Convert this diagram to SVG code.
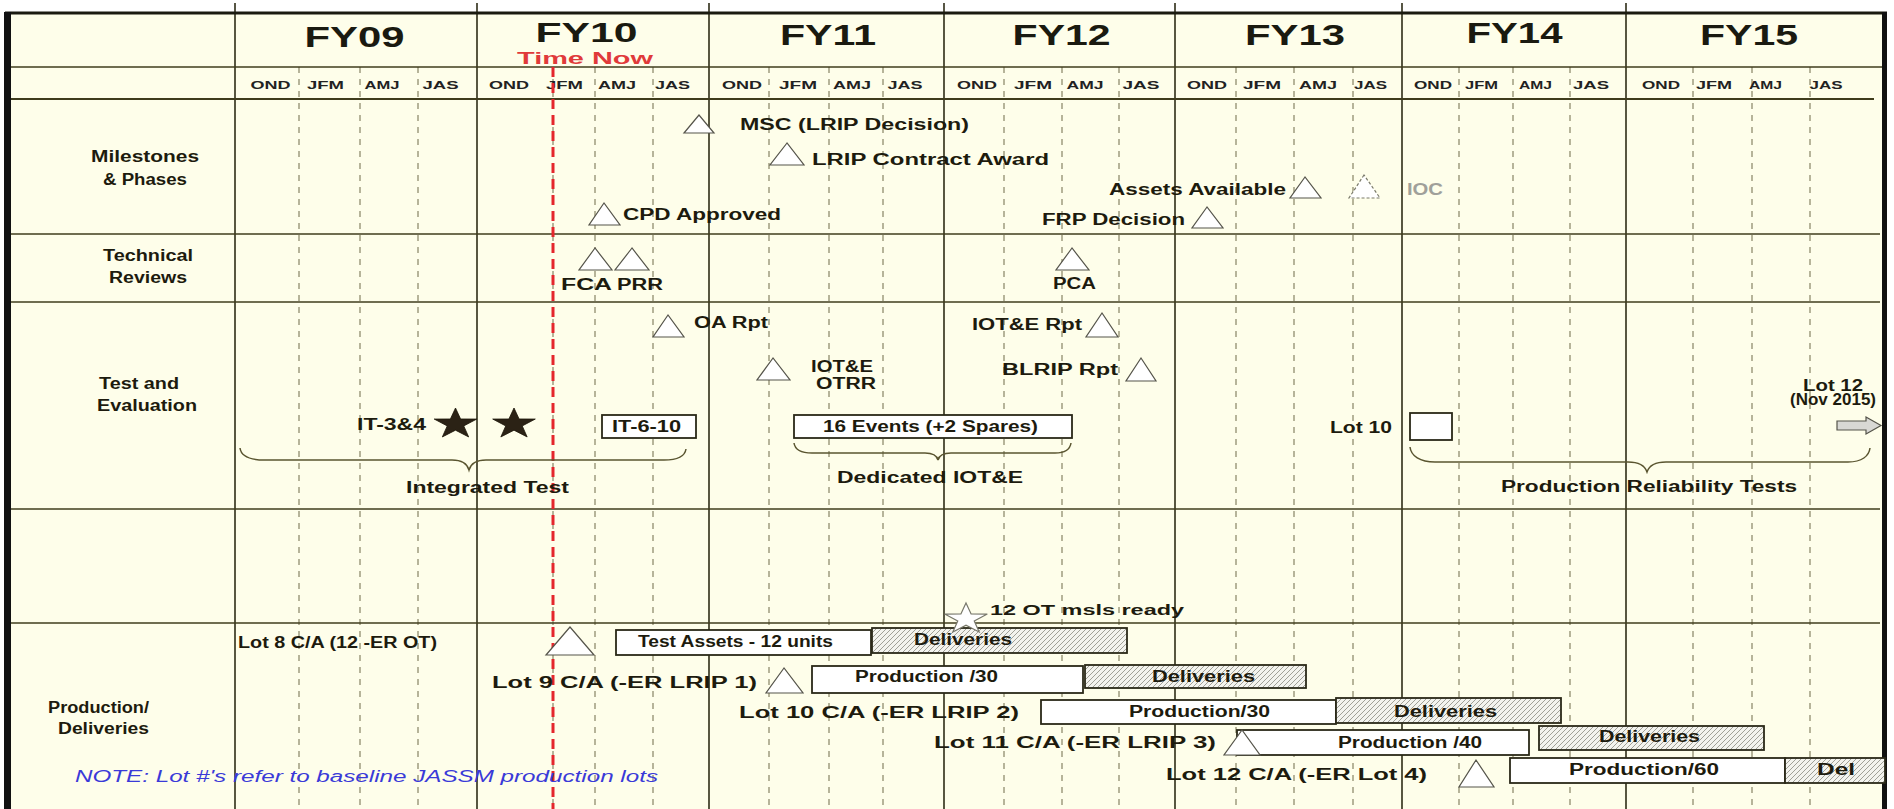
<svg xmlns="http://www.w3.org/2000/svg" width="1894" height="809" viewBox="0 0 1894 809">
<defs>
<style>
.t{font-family:"Liberation Sans",Arial,sans-serif;font-weight:bold;fill:#1d1b0e}
.fy{font-size:29px;fill:#1a1a10}
.q{font-size:10px;fill:#222}
.lbl{font-size:16px}
.m{font-size:16px}
.s{font-size:14px}
.note{font-family:"Liberation Sans",Arial,sans-serif;font-style:italic;font-size:16px;fill:#3a3ad8}
.tri{fill:#fff;stroke:#55544a;stroke-width:1.2}
.trid{fill:#fff;stroke:#7a7a6a;stroke-width:1.2;stroke-dasharray:3 2}
.box{fill:#fff;stroke:#2a2818;stroke-width:1.8}
.hbox{fill:url(#hatch);stroke:#2a2818;stroke-width:1.8}
.dash{stroke:#6e6b48;stroke-width:1;stroke-dasharray:6 6}
.solid{stroke:#2e2c16;stroke-width:1.6}
.hl{stroke:#3f3c1c;stroke-width:1.6}
.brace{fill:none;stroke:#5a5530;stroke-width:1.5}
</style>
<pattern id="hatch" patternUnits="userSpaceOnUse" width="5" height="5">
<rect width="5" height="5" fill="#f3f3ee"/>
<path d="M-1,6 L6,-1" stroke="#8a8a80" stroke-width="0.8"/>
</pattern>
<polygon id="star" points="0,-16 5.1,-5.02 21.3,-4.94 8.26,1.92 13.16,12.94 0,6.2 -13.16,12.94 -8.26,1.92 -21.3,-4.94 -5.1,-5.02"/>
</defs>

<rect x="0" y="0" width="1894" height="809" fill="#ffffff"/>
<rect x="5" y="13" width="1880" height="796" fill="#fefeea"/>

<g id="grid">
<g class="dash">
<line x1="299" y1="67" x2="299" y2="809"/><line x1="360" y1="67" x2="360" y2="809"/><line x1="418" y1="67" x2="418" y2="809"/>
<line x1="553" y1="67" x2="553" y2="809"/><line x1="595" y1="67" x2="595" y2="809"/><line x1="653" y1="67" x2="653" y2="809"/>
<line x1="769" y1="67" x2="769" y2="809"/><line x1="829" y1="67" x2="829" y2="809"/><line x1="883" y1="67" x2="883" y2="809"/>
<line x1="1004" y1="67" x2="1004" y2="809"/><line x1="1062" y1="67" x2="1062" y2="809"/><line x1="1119" y1="67" x2="1119" y2="809"/>
<line x1="1236" y1="67" x2="1236" y2="809"/><line x1="1294" y1="67" x2="1294" y2="809"/><line x1="1353" y1="67" x2="1353" y2="809"/>
<line x1="1459" y1="67" x2="1459" y2="809"/><line x1="1513" y1="67" x2="1513" y2="809"/><line x1="1570" y1="67" x2="1570" y2="809"/>
<line x1="1693" y1="67" x2="1693" y2="809"/><line x1="1752" y1="67" x2="1752" y2="809"/><line x1="1810" y1="67" x2="1810" y2="809"/>
</g>
<g class="solid">
<line x1="235" y1="3" x2="235" y2="809"/><line x1="477" y1="3" x2="477" y2="809"/><line x1="709" y1="3" x2="709" y2="809"/>
<line x1="944" y1="3" x2="944" y2="809"/><line x1="1175" y1="3" x2="1175" y2="809"/><line x1="1402" y1="3" x2="1402" y2="809"/>
<line x1="1626" y1="3" x2="1626" y2="809"/>
</g>
<g class="hl">
<line x1="5" y1="67" x2="1884" y2="67"/>
<line x1="5" y1="99" x2="1874" y2="99" stroke-width="2.2"/>
<line x1="5" y1="234" x2="1880" y2="234"/>
<line x1="5" y1="302" x2="1880" y2="302"/>
<line x1="5" y1="509" x2="1880" y2="509"/>
<line x1="5" y1="623" x2="1880" y2="623"/>
</g>
<line x1="5" y1="13" x2="1887" y2="13" stroke="#1a1a10" stroke-width="3"/>
<rect x="4" y="12" width="7" height="797" fill="#111"/>
<rect x="1882" y="12" width="5" height="797" fill="#111"/>
</g>

<g id="header">
<text class="t fy" x="354.5" y="47" text-anchor="middle" textLength="100" lengthAdjust="spacingAndGlyphs">FY09</text>
<text class="t fy" x="586.5" y="42" text-anchor="middle" textLength="102" lengthAdjust="spacingAndGlyphs" style="font-size:28px">FY10</text>
<text class="t fy" x="828" y="45" text-anchor="middle" textLength="96" lengthAdjust="spacingAndGlyphs">FY11</text>
<text class="t fy" x="1061.6" y="45" text-anchor="middle" textLength="98" lengthAdjust="spacingAndGlyphs">FY12</text>
<text class="t fy" x="1295" y="45" text-anchor="middle" textLength="100" lengthAdjust="spacingAndGlyphs">FY13</text>
<text class="t fy" x="1514.5" y="43" text-anchor="middle" textLength="96" lengthAdjust="spacingAndGlyphs">FY14</text>
<text class="t fy" x="1749" y="45" text-anchor="middle" textLength="98" lengthAdjust="spacingAndGlyphs">FY15</text>
<g class="t q" text-anchor="middle">
<text x="270.5" y="89" textLength="40" lengthAdjust="spacingAndGlyphs">OND</text><text x="325.5" y="89" textLength="37" lengthAdjust="spacingAndGlyphs">JFM</text><text x="382" y="89" textLength="35" lengthAdjust="spacingAndGlyphs">AMJ</text><text x="440.5" y="89" textLength="36" lengthAdjust="spacingAndGlyphs">JAS</text>
<text x="509" y="89" textLength="40" lengthAdjust="spacingAndGlyphs">OND</text><text x="564.5" y="89" textLength="37" lengthAdjust="spacingAndGlyphs">JFM</text><text x="617" y="89" textLength="38" lengthAdjust="spacingAndGlyphs">AMJ</text><text x="672.5" y="89" textLength="35" lengthAdjust="spacingAndGlyphs">JAS</text>
<text x="742" y="89" textLength="40" lengthAdjust="spacingAndGlyphs">OND</text><text x="798" y="89" textLength="38" lengthAdjust="spacingAndGlyphs">JFM</text><text x="852" y="89" textLength="38" lengthAdjust="spacingAndGlyphs">AMJ</text><text x="905" y="89" textLength="35" lengthAdjust="spacingAndGlyphs">JAS</text>
<text x="977" y="89" textLength="40" lengthAdjust="spacingAndGlyphs">OND</text><text x="1033" y="89" textLength="38" lengthAdjust="spacingAndGlyphs">JFM</text><text x="1085" y="89" textLength="37" lengthAdjust="spacingAndGlyphs">AMJ</text><text x="1141" y="89" textLength="37" lengthAdjust="spacingAndGlyphs">JAS</text>
<text x="1207" y="89" textLength="40" lengthAdjust="spacingAndGlyphs">OND</text><text x="1262" y="89" textLength="38" lengthAdjust="spacingAndGlyphs">JFM</text><text x="1318" y="89" textLength="38" lengthAdjust="spacingAndGlyphs">AMJ</text><text x="1370.5" y="89" textLength="33" lengthAdjust="spacingAndGlyphs">JAS</text>
<text x="1433" y="89" textLength="38" lengthAdjust="spacingAndGlyphs">OND</text><text x="1481.5" y="89" textLength="33" lengthAdjust="spacingAndGlyphs">JFM</text><text x="1535.5" y="89" textLength="33" lengthAdjust="spacingAndGlyphs">AMJ</text><text x="1591" y="89" textLength="36" lengthAdjust="spacingAndGlyphs">JAS</text>
<text x="1661" y="89" textLength="38" lengthAdjust="spacingAndGlyphs">OND</text><text x="1714" y="89" textLength="36" lengthAdjust="spacingAndGlyphs">JFM</text><text x="1765.5" y="89" textLength="33" lengthAdjust="spacingAndGlyphs">AMJ</text><text x="1826" y="89" textLength="33" lengthAdjust="spacingAndGlyphs">JAS</text>
</g>
</g>

<g id="row-labels" class="t lbl">
<text x="91" y="162" textLength="108" lengthAdjust="spacingAndGlyphs">Milestones</text>
<text x="103" y="185" textLength="84" lengthAdjust="spacingAndGlyphs">&amp; Phases</text>
<text x="103" y="261" textLength="90" lengthAdjust="spacingAndGlyphs">Technical</text>
<text x="109" y="283" textLength="78" lengthAdjust="spacingAndGlyphs">Reviews</text>
<text x="99" y="389" textLength="80" lengthAdjust="spacingAndGlyphs">Test and</text>
<text x="97" y="411" textLength="100" lengthAdjust="spacingAndGlyphs">Evaluation</text>
<text x="48" y="713" textLength="101" lengthAdjust="spacingAndGlyphs">Production/</text>
<text x="58" y="734" textLength="91" lengthAdjust="spacingAndGlyphs">Deliveries</text>
</g>

<g id="time-now">
<line x1="553" y1="67" x2="553" y2="809" stroke="#e4262c" stroke-width="3" stroke-dasharray="10 6"/>
<text x="517" y="64" font-family="Liberation Sans, Arial, sans-serif" font-weight="bold" font-size="17" fill="#e03a3a" textLength="136" lengthAdjust="spacingAndGlyphs">Time Now</text>
</g>

<g id="connectors">
<path class="brace" d="M240,448 C241,456 250,460 265,460 L452,460 C462,460 467,463 469,470 C471,463 476,460 486,460 L664,460 C678,460 685,456 686,449"/>
<path class="brace" d="M794,443 C795,450 802,453 812,453 L925,453 C933,453 937,456 938,460 C939,456 943,453 951,453 L1055,453 C1065,453 1070,450 1071,443"/>
<path class="brace" d="M1410,447 C1411,456 1420,462 1435,462 L1628,462 C1640,462 1645,466 1647,472 C1649,466 1654,462 1666,462 L1848,462 C1862,462 1869,456 1870,448"/>
</g>

<g id="msc"><polygon class="tri" points="699,115 684,133 714,133"/><text class="t m" x="740" y="130" textLength="229" lengthAdjust="spacingAndGlyphs">MSC (LRIP Decision)</text></g>
<g id="lrip-award"><polygon class="tri" points="787,143 770,165 804,165"/><text class="t m" x="812" y="165" textLength="237" lengthAdjust="spacingAndGlyphs">LRIP Contract Award</text></g>
<g id="assets-available"><text class="t m" x="1109" y="195" textLength="177" lengthAdjust="spacingAndGlyphs">Assets Available</text><polygon class="tri" points="1305,177 1290,198 1321,198"/></g>
<g id="ioc"><polygon class="trid" points="1364,175 1349,198 1380,198"/><text class="t m" x="1407" y="195" textLength="36" lengthAdjust="spacingAndGlyphs" style="fill:#a0a09a">IOC</text></g>
<g id="cpd"><polygon class="tri" points="604,203 589,225 620,225"/><text class="t m" x="623" y="220" textLength="158" lengthAdjust="spacingAndGlyphs">CPD Approved</text></g>
<g id="frp"><text class="t m" x="1042" y="225" textLength="143" lengthAdjust="spacingAndGlyphs">FRP Decision</text><polygon class="tri" points="1207,207 1192,228 1223,228"/></g>

<g id="fca"><polygon class="tri" points="595,248 579,270 612,270"/><text class="t m" x="561" y="290" textLength="51" lengthAdjust="spacingAndGlyphs">FCA</text></g>
<g id="prr"><polygon class="tri" points="632,248 615,270 649,270"/><text class="t m" x="617" y="290" textLength="46" lengthAdjust="spacingAndGlyphs">PRR</text></g>
<g id="pca"><polygon class="tri" points="1072,248 1056,270 1089,270"/><text class="t m" x="1053" y="289" textLength="43" lengthAdjust="spacingAndGlyphs">PCA</text></g>

<g id="oa-rpt"><polygon class="tri" points="668,315 653,337 684,337"/><text class="t m" x="694" y="328" textLength="74" lengthAdjust="spacingAndGlyphs">OA Rpt</text></g>
<g id="iote-rpt"><text class="t m" x="972" y="330" textLength="110" lengthAdjust="spacingAndGlyphs">IOT&amp;E Rpt</text><polygon class="tri" points="1102,313 1086,337 1118,337"/></g>
<g id="iote-otrr"><polygon class="tri" points="773,358 757,380 790,380"/><text class="t m" x="811" y="372" textLength="62" lengthAdjust="spacingAndGlyphs">IOT&amp;E</text><text class="t m" x="816" y="389" textLength="60" lengthAdjust="spacingAndGlyphs">OTRR</text></g>
<g id="blrip-rpt"><text class="t m" x="1002" y="375" textLength="116" lengthAdjust="spacingAndGlyphs">BLRIP Rpt</text><polygon class="tri" points="1141,358 1126,381 1156,381"/></g>
<g id="lot12-test"><text class="t m" x="1803" y="391" textLength="60" lengthAdjust="spacingAndGlyphs">Lot 12</text><text class="t m" x="1790" y="405" textLength="86" lengthAdjust="spacingAndGlyphs">(Nov 2015)</text><polygon points="1837,421 1866,421 1866,417 1881,425.5 1866,434 1866,430 1837,430" fill="#d8d8d4" stroke="#55544a" stroke-width="1.2"/></g>
<g id="it-3-4"><text class="t m" x="357" y="430" textLength="69" lengthAdjust="spacingAndGlyphs">IT-3&amp;4</text><use href="#star" x="455.5" y="424" fill="#2b2215" stroke="#1a1408" stroke-width="0.8"/><use href="#star" x="514" y="424" fill="#2b2215" stroke="#1a1408" stroke-width="0.8"/></g>
<g id="it-6-10"><rect class="box" x="602" y="415" width="94" height="23"/><text class="t m" x="612" y="432" textLength="69" lengthAdjust="spacingAndGlyphs">IT-6-10</text></g>
<g id="events"><rect class="box" x="794" y="415" width="278" height="23"/><text class="t m" x="823" y="432" textLength="215" lengthAdjust="spacingAndGlyphs">16 Events (+2 Spares)</text></g>
<g id="lot10-test"><text class="t m" x="1330" y="433" textLength="62" lengthAdjust="spacingAndGlyphs">Lot 10</text><rect class="box" x="1410" y="413" width="42" height="27"/></g>
<g id="integrated-test"><text class="t m" x="406" y="493" textLength="163" lengthAdjust="spacingAndGlyphs">Integrated Test</text></g>
<g id="dedicated-iote"><text class="t m" x="837" y="483" textLength="186" lengthAdjust="spacingAndGlyphs">Dedicated IOT&amp;E</text></g>
<g id="prt"><text class="t m" x="1501" y="492" textLength="296" lengthAdjust="spacingAndGlyphs">Production Reliability Tests</text></g>

<g id="lot8">
<text class="t m" x="238" y="648" textLength="199" lengthAdjust="spacingAndGlyphs">Lot 8 C/A (12 -ER OT)</text>
<polygon class="tri" points="570,627 546,655 594,655"/>
<rect class="box" x="616" y="630" width="255" height="25"/>
<text class="t m" x="638" y="647" textLength="195" lengthAdjust="spacingAndGlyphs">Test Assets  - 12 units</text>
<rect class="hbox" x="872" y="628" width="255" height="25"/>
<text class="t m" x="914" y="645" textLength="98" lengthAdjust="spacingAndGlyphs">Deliveries</text>
</g>
<g id="ot-msls"><use href="#star" x="966" y="619" fill="#ffffff" stroke="#77776a" stroke-width="1.2"/><text class="t s" x="990" y="615" textLength="194" lengthAdjust="spacingAndGlyphs">12 OT msls ready</text></g>
<g id="lot9">
<text class="t m" x="492" y="688" textLength="265" lengthAdjust="spacingAndGlyphs">Lot  9 C/A (-ER LRIP 1)</text>
<polygon class="tri" points="784,668 766,693 803,693"/>
<rect class="box" x="812" y="666" width="271" height="27"/>
<text class="t m" x="855" y="682" textLength="143" lengthAdjust="spacingAndGlyphs">Production /30</text>
<rect class="hbox" x="1085" y="665" width="221" height="23"/>
<text class="t m" x="1152" y="682" textLength="103" lengthAdjust="spacingAndGlyphs">Deliveries</text>
</g>
<g id="lot10">
<text class="t m" x="739" y="718" textLength="280" lengthAdjust="spacingAndGlyphs">Lot  10 C/A (-ER LRIP 2)</text>
<rect class="box" x="1041" y="700" width="295" height="24"/>
<text class="t m" x="1129" y="717" textLength="141" lengthAdjust="spacingAndGlyphs">Production/30</text>
<rect class="hbox" x="1336" y="698" width="225" height="25"/>
<text class="t m" x="1394" y="717" textLength="103" lengthAdjust="spacingAndGlyphs">Deliveries</text>
</g>
<g id="lot11">
<text class="t m" x="934" y="748" textLength="282" lengthAdjust="spacingAndGlyphs">Lot  11 C/A (-ER LRIP 3)</text>
<rect class="box" x="1237" y="730" width="292" height="25"/>
<polygon class="tri" points="1242,730 1224,755 1260,755"/>
<text class="t m" x="1338" y="748" textLength="144" lengthAdjust="spacingAndGlyphs">Production /40</text>
<rect class="hbox" x="1539" y="726" width="225" height="24"/>
<text class="t m" x="1599" y="742" textLength="101" lengthAdjust="spacingAndGlyphs">Deliveries</text>
</g>
<g id="lot12">
<text class="t m" x="1166" y="780" textLength="261" lengthAdjust="spacingAndGlyphs">Lot  12 C/A (-ER Lot 4)</text>
<polygon class="tri" points="1476,760 1459,787 1494,787"/>
<rect class="box" x="1510" y="758" width="275" height="25"/>
<text class="t m" x="1569" y="775" textLength="150" lengthAdjust="spacingAndGlyphs">Production/60</text>
<rect class="hbox" x="1785" y="758" width="100" height="25"/>
<text class="t m" x="1817" y="775" textLength="38" lengthAdjust="spacingAndGlyphs">Del</text>
</g>
<g id="note"><text class="note" x="75" y="782" textLength="583" lengthAdjust="spacingAndGlyphs">NOTE:  Lot #'s refer to baseline JASSM production lots</text></g>
</svg>
